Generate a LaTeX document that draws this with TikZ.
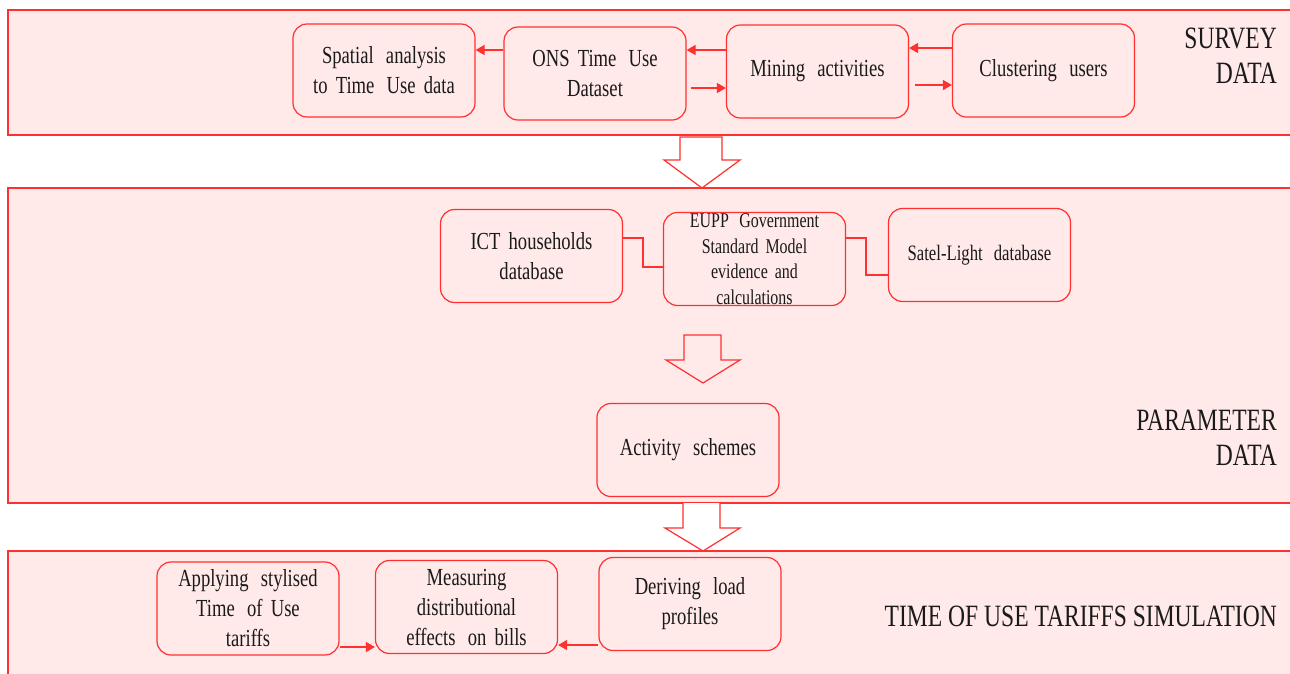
\documentclass[tikz,border=0pt]{standalone}
\usepackage{fontspec}
\setmainfont{Liberation Serif}[FakeStretch=0.76]
\usetikzlibrary{arrows.meta}
\definecolor{bred}{HTML}{FF3030}
\definecolor{bpink}{HTML}{FFE9E9}
\definecolor{ink}{HTML}{1A1A1A}
\newcommand\wsp{\hspace{0.5em}}
\tikzset{
  band/.style={draw=bred, line width=1.2pt, fill=bpink},
  box/.style={draw=bred, line width=1.2pt, rounded corners=14pt, minimum width=182pt, minimum height=93pt,
     text width=180pt, align=center, inner sep=0pt, text=ink, font=\fontsize{24.5}{30}\selectfont},
  smallbox/.style={box, font=\fontsize{21}{25.5}\selectfont},
  arr/.style={draw=bred, line width=1.2pt, -{Triangle[length=9pt,width=10pt]}},
  conn/.style={draw=bred, line width=1.2pt},
  lab/.style={anchor=east, align=right, inner sep=0pt, text=ink, font=\fontsize{31}{35}\selectfont},
  blk/.style={draw=bred, line width=1.2pt, line join=miter},
}
\begin{document}
\begin{tikzpicture}[x=1pt,y=-1pt]
\useasboundingbox (0,0) rectangle (1290,673);
% bands
\fill[white] (0,0) rectangle (1290,673);
\path[band] (8,10) rectangle (1300,135);
\path[band] (8,188) rectangle (1300,503);
\path[band] (8,551) rectangle (1300,690);

% block arrows
\path[blk, fill=white] (680,137) -- (680,160) -- (664,160) -- (702,188) -- (740,160) -- (722,160) -- (722,137) -- cycle;
\path[blk, fill=bpink] (684,335) -- (684,360) -- (666,360) -- (703,383) -- (740,360) -- (721,360) -- (721,335) -- cycle;
\path[blk, fill=white] (683,503) -- (683,528) -- (665,528) -- (703,551) -- (740,528) -- (720,528) -- (720,503);

% survey data
\node[box] (spatial) at (384,70.5) {Spatial\wsp analysis\\to Time\wsp Use data};
\node[box] (ons) at (595,73.5) {ONS Time\wsp Use\\Dataset};
\node[box] (mining) at (817.5,71.5) {Mining\wsp activities};
\node[box] (clust) at (1043.5,70.5) {Clustering\wsp users};
\node[lab] (survey) at (1277,56) {SURVEY\\DATA};

\draw[arr] (ons.west |- 0,50) -- (spatial.east |- 0,50);
\draw[arr] (mining.west |- 0,50) -- (ons.east |- 0,50);
\draw[arr] ([xshift=4pt]ons.east |- 0,88) -- (mining.west |- 0,88);
\draw[arr] (clust.west |- 0,48) -- (mining.east |- 0,48);
\draw[arr] ([xshift=6pt]mining.east |- 0,85) -- (clust.west |- 0,85);

% parameter data
\node[box] (ict) at (531.5,256) {ICT households\\database};
\node[smallbox] (eupp) at (754.5,259) {EUPP\wsp Government\\Standard Model\\evidence and\\calculations};
\node[box, font=\fontsize{22}{26}\selectfont] (satel) at (979.5,255) {Satel-Light\wsp database};
\node[box] (activity) at (688,450) {Activity\wsp schemes};
\node[lab] (param) at (1277,437.5) {PARAMETER\\DATA};

\draw[conn] (ict.east |- 0,238) -- (643,238) -- (643,267) -- (eupp.west |- 0,267);
\draw[conn] (eupp.east |- 0,238) -- (866,238) -- (866,275) -- (satel.west |- 0,275);

% time of use tariffs simulation
\node[box] (applying) at (248,608.5) {Applying\wsp stylised\\Time\wsp of Use\\tariffs};
\node[box] (measuring) at (466.5,607) {Measuring\\distributional\\effects\wsp on bills};
\node[box] (deriving) at (690,604) {Deriving\wsp load\\profiles};
\node[lab] (tou) at (1277,616) {TIME OF USE TARIFFS SIMULATION};

\draw[arr] (applying.east |- 0,647) -- (measuring.west |- 0,647);
\draw[arr] (deriving.west |- 0,645) -- (measuring.east |- 0,645);
\end{tikzpicture}
\end{document}
